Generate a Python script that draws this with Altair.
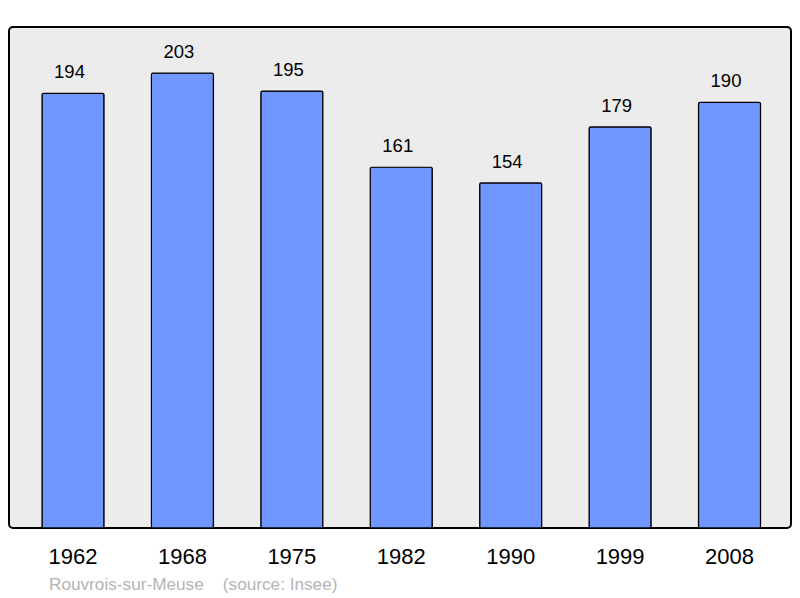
import altair as alt
import pandas as pd

years = ["1962", "1968", "1975", "1982", "1990", "1999", "2008"]
population = [194, 203, 195, 161, 154, 179, 190]
caption = "Rouvrois-sur-Meuse\u00a0\u00a0\u00a0\u00a0(source: Insee)"

df = pd.DataFrame({"year": years, "pop": population})

FONT = "Liberation Sans"

x = alt.X("year:N", sort=years, title=None,
          scale=alt.Scale(paddingInner=0.433, paddingOuter=0.29, align=0.52),
          axis=alt.Axis(labelAngle=0, labelFontSize=22, labelFont=FONT, labelColor="#000",
                        labelPadding=18, domain=False, ticks=False, grid=False))
y = alt.Y("pop:Q", title=None, scale=alt.Scale(domain=[0, 223.6], nice=False, zero=True),
          axis=None)

bars = alt.Chart(df).mark_bar(color="#7096ff", stroke="#000", strokeWidth=1.2,
                              cornerRadius=1.5).encode(x=x, y=y)

labels = alt.Chart(df).mark_text(fontSize=18.5, font=FONT, color="#000", baseline="alphabetic",
                                 dy=-15, dx=-3.5).encode(x=x, y=y, text="pop:Q")

cap = alt.Chart(pd.DataFrame({"t": [caption]})).mark_text(
    fontSize=17.2, font=FONT, color="#b4b4b4", align="left", baseline="middle"
).encode(x=alt.value(40), y=alt.value(557.5), text="t:N")

chart = alt.layer(bars, labels, cap).properties(
    width=782, height=501,
    autosize=alt.AutoSizeParams(type="none"),
    padding={"left": 1, "top": 19, "right": 1, "bottom": 70},
).configure(background="white").configure_view(
    fill="#ececec", stroke="#000", strokeWidth=2, cornerRadius=4
)

chart.save("out.html", embed_options={"renderer": "svg", "actions": False})
